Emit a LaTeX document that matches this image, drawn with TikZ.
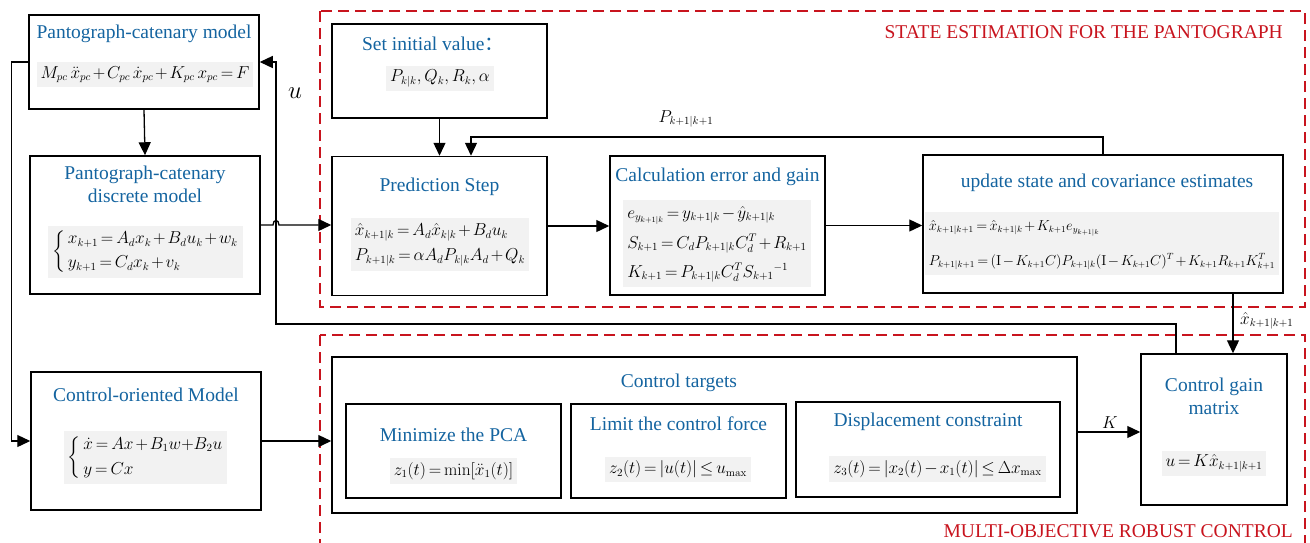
\documentclass[tikz,border=0pt]{standalone}
\usepackage{amsmath}
\usepackage[no-math]{fontspec}
\setmainfont{Liberation Serif}
\newfontfamily\cjk{Noto Sans CJK SC}
\usepackage{tikz}
\usetikzlibrary{arrows.meta}
\definecolor{titleblue}{RGB}{20,100,160}
\definecolor{zonered}{RGB}{200,20,30}
\definecolor{eqgray}{RGB}{242,242,242}
\newcommand{\mathsz}[1][16]{\fontsize{#1}{20}\selectfont\medmuskip=2mu\thickmuskip=3mu}

\tikzset{
  blk/.style={draw=black, line width=1.5pt, rectangle, inner sep=0pt},
  ttl/.style={text=titleblue, align=center, inner sep=0pt},
  eqn/.style={fill=eqgray, inner sep=4pt, font=\mathsz},
  zone/.style={draw=zonered, line width=1.3pt, dash pattern=on 11pt off 6pt},
  zonelbl/.style={text=zonered, anchor=east, inner sep=0pt},
  arr/.style={line width=1.3pt, -{Triangle[length=13pt,width=12pt]}},
  lbl/.style={inner sep=0pt, font=\mathsz}
}

\begin{document}
\begin{tikzpicture}[x=1pt, y=-1pt, font=\fontsize{19.5}{23}\selectfont]
\useasboundingbox (0,0) rectangle (1310,542);

% dashed zones
\draw[zone] (320,11) rectangle (1305,307);
\draw[zone] (320,335) rectangle (1305,560);
\node[zonelbl] (zest) at (1283,32) {STATE ESTIMATION FOR THE PANTOGRAPH};
\node[zonelbl] (zctl) at (1293,531) {MULTI-OBJECTIVE ROBUST CONTROL};

% model blocks on the left
\node[blk, minimum width=230pt, minimum height=94pt] (pcm) at (144,62) {};
\node[ttl] at (144,34) {Pantograph-catenary model};
\node[eqn] at (145,74.5) {$M_{pc}\,\ddot{x}_{pc}+C_{pc}\,\dot{x}_{pc}+K_{pc}\,x_{pc}=F$};

\node[blk, minimum width=230pt, minimum height=138pt] (pcd) at (145,225) {};
\node[ttl] at (145,184) {Pantograph-catenary\\discrete model};
\node[eqn] at (145.5,251.5) {$\left\{\,\begin{array}{@{}l@{}}x_{k+1}=A_dx_k+B_du_k+w_k\\[4pt] y_{k+1}=C_dx_k+v_k\end{array}\right.$};

\node[blk, minimum width=230pt, minimum height=138pt] (com) at (146,441) {};
\node[ttl] at (146,395) {Control-oriented Model};
\node[eqn] at (145.5,457.5) {$\left\{\,\begin{array}{@{}l@{}}\dot{x}=Ax+B_1w{+}B_2u\\[5pt] y=Cx\end{array}\right.$};

% state estimation
\node[blk, minimum width=215pt, minimum height=94pt] (init) at (439.5,71) {};
\node[ttl] at (433,44) {Set initial value{\cjk ：}};
\node[eqn] at (440,78.5) {$P_{k|k},Q_k,R_k,\alpha$};

\node[blk, minimum width=215pt, minimum height=139pt] (pred) at (439.5,226) {};
\node[ttl] at (439.5,187) {Prediction Step};
\node[eqn] at (440,244) {$\begin{array}{@{}l@{}}\hat{x}_{k+1|k}=A_d\hat{x}_{k|k}+B_du_k\\[5pt] P_{k+1|k}=\alpha A_dP_{k|k}A_d+Q_k\end{array}$};

\node[blk, minimum width=215pt, minimum height=139pt] (calc) at (717.5,225.5) {};
\node[ttl] at (717.5,177) {Calculation error and gain};
\node[eqn] at (717,243.5) {$\begin{array}{@{}l@{}}e_{y_{k+1|k}}=y_{k+1|k}-\hat{y}_{k+1|k}\\[10pt] S_{k+1}=C_dP_{k+1|k}C_d^T+R_{k+1}\\[9pt] K_{k+1}=P_{k+1|k}C_d^TS_{k+1}{}^{-1}\end{array}$};

\node[blk, minimum width=360pt, minimum height=138pt] (upd) at (1103,224) {};
\node[ttl] at (1107,183) {update state and covariance estimates};
\node[eqn, font={\mathsz[13.5]}] at (1102,243.5) {$\begin{array}{@{}l@{}}\hat{x}_{k+1|k+1}=\hat{x}_{k+1|k}+K_{k+1}e_{y_{k+1|k}}\\[15pt] P_{k+1|k+1}=(\mathrm{I}-K_{k+1}C)P_{k+1|k}(\mathrm{I}-K_{k+1}C)^T+K_{k+1}R_{k+1}K_{k+1}^T\end{array}$};

% robust control
\node[blk, minimum width=745pt, minimum height=156pt] (tgt) at (704.5,435) {};
\node[ttl] at (679,383) {Control targets};

\node[blk, minimum width=215pt, minimum height=94pt] (pca) at (453.5,451) {};
\node[ttl] at (453.5,435) {Minimize the PCA};
\node[eqn] at (453.5,471) {$z_1(t)=\min[\ddot{x}_1(t)]$};

\node[blk, minimum width=215pt, minimum height=94pt] (lim) at (678.5,451) {};
\node[ttl] at (678.5,424) {Limit the control force};
\node[eqn] at (678,469.5) {$z_2(t)=\left|u(t)\right|\le u_{\max}$};

\node[blk, minimum width=264pt, minimum height=95pt] (disp) at (928,449.5) {};
\node[ttl] at (928,422) {Displacement constraint};
\node[eqn] at (937.5,469) {$z_3(t)=\left|x_2(t)-x_1(t)\right|\le\Delta x_{\max}$};

\node[blk, minimum width=146pt, minimum height=151pt] (gain) at (1214,429.5) {};
\node[ttl] at (1214,396) {Control gain\\matrix};
\node[eqn] at (1214,463.5) {$u=K\hat{x}_{k+1|k+1}$};

% connectors
\coordinate (pfb) at (471,137);
\coordinate (xfb) at (1233,0);
\coordinate (ufb) at (276,324);
\coordinate (ucol) at (1176,0);

\draw[arr] (pcm.south) -- (pcd.north);
\draw[arr] (pcm.west) -- ++(-17,0) |- (com.west);
\draw[arr] (pcd.east) -- (273,225) .. controls (273,219) and (279,219) .. (279,225) -- (pred.west |- pcd.east);
\draw[arr] (init.south) -- (init.south |- pred.north);
\draw[arr] (upd.north) |- (pfb) -- (pfb |- pred.north);
\node[lbl] (plbl) at (686,119) {$P_{k+1|k+1}$};
\draw[arr] (pred.east) -- (calc.west |- pred.east);
\draw[arr] (calc.east) -- (upd.west |- calc.east);
\draw[arr] (upd.south -| xfb) -- (gain.north -| xfb);
\node[lbl, anchor=west] (xlbl) at (1240,321) {$\hat{x}_{k+1|k+1}$};
\draw[arr] (com.east) -- (tgt.west |- com.east);
\draw[arr] (tgt.east |- 0,432) -- (gain.west |- 0,432);
\node[lbl, font=\fontsize{18}{22}\selectfont] (klbl) at (1110,423) {$K$};
\draw[arr] (gain.north -| ucol) |- (ufb) |- (pcm.east);
\node[lbl, font=\fontsize{24}{26}\selectfont] (ulbl) at (295,93) {$u$};
\end{tikzpicture}
\end{document}
